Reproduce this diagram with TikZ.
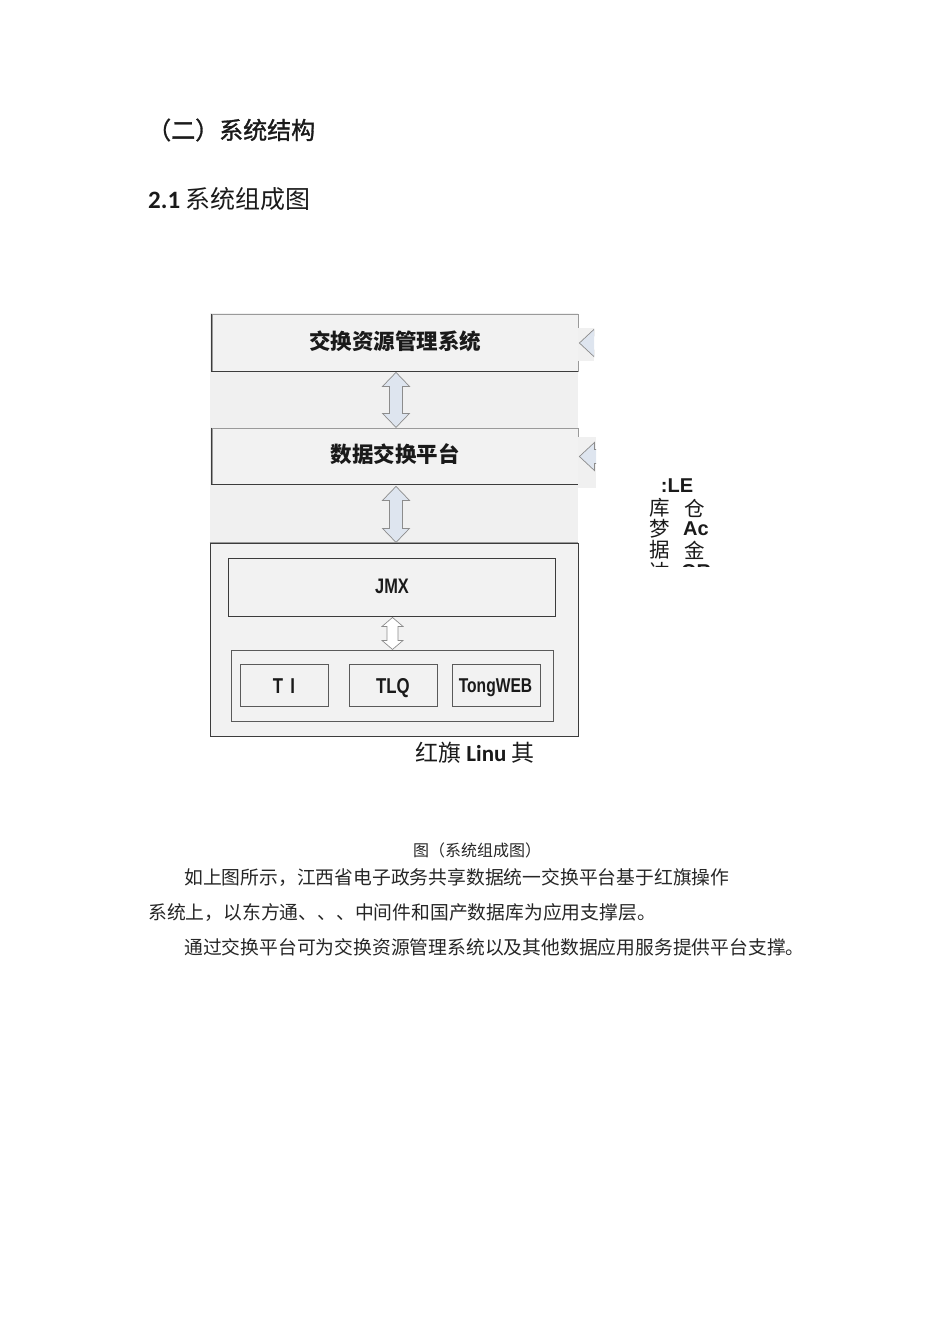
\documentclass[tikz,border=0pt]{standalone}
\usepackage{fontspec}
\setmainfont{Liberation Sans}
\newfontfamily\cjk{Noto Sans CJK SC}
\newfontfamily\cjkh[FakeBold=1.3]{Noto Sans CJK SC}
\newfontfamily\carl{Carlito}
\newfontfamily\lib{Liberation Sans}
\newfontfamily\libn[FakeStretch=0.78]{Liberation Sans}
\usetikzlibrary{calc}
\definecolor{ink}{HTML}{1A1A1A}
\definecolor{bodyink}{HTML}{262626}
\definecolor{bg}{HTML}{F0F0F0}
\definecolor{boxfill}{HTML}{F2F2F2}
\definecolor{arrfill}{HTML}{DEE5EF}
\definecolor{arrline}{HTML}{8C8C8C}
\definecolor{edgelight}{HTML}{9A9A9A}
\definecolor{edgedark}{HTML}{3C3C3C}
\definecolor{edgemid}{HTML}{5A5A5A}
\newcommand\vdarrow[6]{%
  \filldraw[arr, #6] #1 -- ++(#3,#5) -- ++({-(#3)+(#4)},0) -- ++(0,{#2-2*(#5)})
    -- ++({#3-#4},0) -- ++({-(#3)},#5) -- ++({-(#3)},{-(#5)}) -- ++({#3-#4},0)
    -- ++(0,{-(#2)+2*(#5)}) -- ++({-(#3)+(#4)},0) -- cycle;}
\begin{document}
\begin{tikzpicture}[x=1pt,y=-1pt,
  txt/.style={inner sep=0, text=ink},
  body/.style={inner sep=0, text=bodyink, anchor=west, font=\cjk\fontsize{18.8}{22}\selectfont},
  box/.style={draw=edgelight, fill=boxfill, line width=0.8pt, inner sep=0},
  inbox/.style={draw=edgemid, fill=boxfill, line width=0.9pt, inner sep=0},
  cjkbold/.style={font=\cjk\bfseries\fontsize{21.5}{24}\selectfont},
  latbold/.style={font=\libn\bfseries\fontsize{21.5}{24}\selectfont},
  arr/.style={fill=arrfill, draw=arrline, line width=0.7pt, line join=miter},
  dark/.style={draw=edgedark, line width=0.9pt}]
\useasboundingbox (0,0) rectangle (950,1319);

% headings
\node[txt, anchor=west, font=\cjkh\fontsize{24}{28}\selectfont] (h1) at (147,130) {（二）系统结构};
\node[txt, anchor=west, font=\cjk\fontsize{25}{29}\selectfont] (h2) at (148,199) {{\carl\bfseries 2.1} 系统组成图};

% grey background of the figure
\fill[bg] (210,313) rectangle (578,543);

% top boxes
\node[box, minimum width=366, minimum height=57] (b1) at (395,342.5) {};
\draw[dark] (b1.north west) -- (b1.south west) -- (b1.south east);
\node[txt, cjkbold] (t1) at (395,341) {交换资源管理系统};

\node[box, minimum width=366, minimum height=56] (b2) at (395,456) {};
\draw[dark] (b2.north west) -- (b2.south west) -- (b2.south east);
\node[txt, cjkbold] (t2) at (395,454) {数据交换平台};

% outer box
\node[draw=edgedark, fill=boxfill, line width=0.9pt, inner sep=0, minimum width=368, minimum height=193] (outer) at (394,639.5) {};
\draw[draw=edgelight, line width=0.9pt] (outer.north west) -- (outer.north east);

\node[draw=edgedark, fill=boxfill, line width=0.9pt, inner sep=0, minimum width=327, minimum height=58] (jmx) at (391.5,587) {};
\node[txt, font=\libn\bfseries\fontsize{21}{24}\selectfont] (tjmx) at (392,586) {JMX};

\node[inbox, minimum width=322, minimum height=71] (cont) at (392,685.5) {};
\node[inbox, minimum width=88, minimum height=42] (ti) at (284,685) {};
\node[inbox, minimum width=88, minimum height=42] (tlq) at (393,685) {};
\node[inbox, minimum width=88, minimum height=42] (tw) at (496,685) {};
\node[txt, latbold, anchor=base] (tti) at (284,693) {T\,\,I};
\node[txt, latbold, anchor=base] (ttlq) at (393,693) {TLQ};
\node[txt, font=\libn\bfseries\fontsize{20}{22}\selectfont, anchor=base] (ttw) at (495.5,692.5) {TongWEB};

% vertical double arrows
\vdarrow{($(b1.south)+(1,1)$)}{55}{13.5}{6.5}{14}{}
\vdarrow{($(b2.south)+(1,2)$)}{56}{13.5}{6.5}{14}{}
\vdarrow{($(jmx.south)+(1,1)$)}{32}{10.5}{5.5}{9}{fill=white}

% clipped left-pointing arrows at the right edge
\begin{scope}
  \clip (578,328) rectangle (594,361);
  \fill[bg] (578,328) rectangle (594,361);
  \filldraw[arr] ($(b1.east)+(1,0.5)$) -- ++(15,-14) -- ++(0,7) -- ++(20,0) -- ++(0,14) -- ++(-20,0) -- ++(0,7) -- cycle;
\end{scope}
\begin{scope}
  \clip (578,437) rectangle (596,488);
  \fill[bg] (578,437) rectangle (596,488);
  \filldraw[arr] ($(b2.east)+(1,0.5)$) -- ++(15,-14) -- ++(0,7) -- ++(20,0) -- ++(0,14) -- ++(-20,0) -- ++(0,7) -- cycle;
\end{scope}

% label under the figure
\node[txt, anchor=west, font=\fontsize{23}{26}\selectfont] (linux) at (415,753)
  {{\cjk 红旗}{\carl\ \bfseries Linu\ }{\cjk 其}};

% clipped text at right
\begin{scope}
  \clip (640,472) rectangle (720,566);
  \node[txt, font=\lib\bfseries\fontsize{20}{22}\selectfont] (r0) at (677,486) {:LE};
  \node[txt, font=\cjk\fontsize{20.5}{22}\selectfont] (r1a) at (660,508) {库};
  \node[txt, font=\cjk\fontsize{20.5}{22}\selectfont] (r1b) at (695,508) {仓};
  \node[txt, font=\cjk\fontsize{20.5}{22}\selectfont] (r2a) at (660,529) {梦};
  \node[txt, font=\lib\bfseries\fontsize{20}{22}\selectfont] (r2b) at (696,529) {Ac};
  \node[txt, font=\cjk\fontsize{20.5}{22}\selectfont] (r3a) at (660,550) {据};
  \node[txt, font=\cjk\fontsize{20.5}{22}\selectfont] (r3b) at (695,550) {金};
  \node[txt, font=\cjk\fontsize{20.5}{22}\selectfont] (r4a) at (660,572) {达};
  \node[txt, font=\lib\bfseries\fontsize{20}{22}\selectfont] (r4b) at (696,572) {OR};
\end{scope}

% caption and body text
\node[txt, text=bodyink, font=\cjk\fontsize{16}{18}\selectfont] (cap) at (477,850) {图（系统组成图）};
\node[body] (p1) at (184,878) {如上图所示，江西省电子政务共享数据统一交换平台基于红旗操作};
\node[body] (p2) at (148,913) {系统上，以东方通、、、中间件和国产数据库为应用支撑层。};
\node[body] (p3) at (184,947) {通过交换平台可为交换资源管理系统以及其他数据应用服务提供平台支撑。};
\end{tikzpicture}
\end{document}
